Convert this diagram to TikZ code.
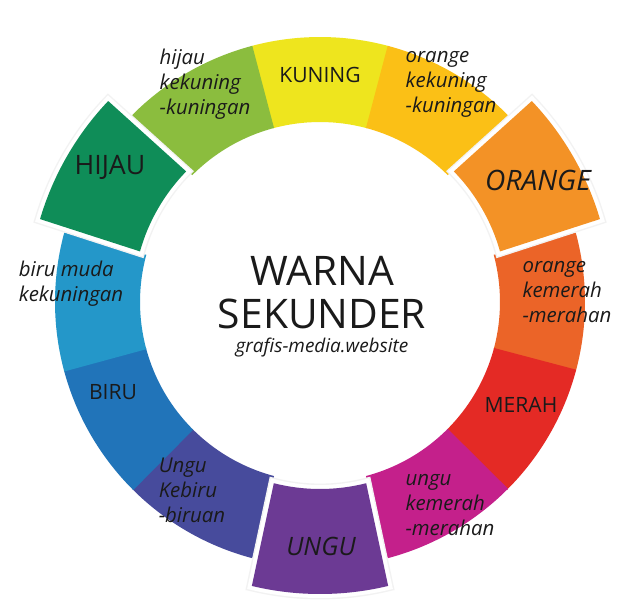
\documentclass[tikz,border=0pt]{standalone}
\usepackage{fontspec}
\setmainfont{Open Sans}
\usetikzlibrary{positioning}
\definecolor{kuning}{HTML}{EEE51E}
\definecolor{orkuning}{HTML}{FBC016}
\definecolor{oranye}{HTML}{F39226}
\definecolor{orkemerah}{HTML}{EB6428}
\definecolor{merah}{HTML}{E42A25}
\definecolor{ungkemerah}{HTML}{C4208B}
\definecolor{ungu}{HTML}{6C3A94}
\definecolor{ungkebiru}{HTML}{474B9C}
\definecolor{biru}{HTML}{2174B9}
\definecolor{birumuda}{HTML}{2497C9}
\definecolor{hijau}{HTML}{0F8D58}
\definecolor{hijkuning}{HTML}{8BBD3E}
\definecolor{darktext}{HTML}{1A1A1A}

\begin{document}
\begin{tikzpicture}[
    primlbl/.style={font=\fontsize{15}{18}\selectfont,text=darktext,inner sep=0pt},
    seclbl/.style={font=\fontsize{19}{22}\selectfont,text=darktext,inner sep=0pt},
    smalllbl/.style={font=\itshape\fontsize{14.5}{17.8}\selectfont,text=darktext,align=left,inner sep=0pt},
    piece/.style={line join=round,
      preaction={draw=black!5,line width=0.27cm},
      preaction={draw=white,line width=0.2cm}}]
  \useasboundingbox (-8,-7.65) rectangle (8,7.55);
  \fill[white] (-8,-7.65) rectangle (8,7.55);

  % ring of the twelve colours
  \foreach \a/\c in {90/kuning,60/orkuning,0/orkemerah,-30/merah,-60/ungkemerah,
                     -120/ungkebiru,-150/biru,180/birumuda,120/hijkuning}
    \fill[\c] (\a-15.2:4.5) arc[start angle=\a-15.2,end angle=\a+15.2,radius=4.5]
      -- (\a+15.2:6.625) arc[start angle=\a+15.2,end angle=\a-15.2,radius=6.625] -- cycle;

  % secondary colours pushed out
  \foreach \a/\c in {150/hijau,30/oranye,-90/ungu}
    \path[piece,fill=\c] (\a-14.3:4.675) arc[start angle=\a-14.3,end angle=\a+14.3,radius=4.675]
      -- (\a+13.5:7.3) arc[start angle=\a+13.5,end angle=\a-13.5,radius=7.3] -- cycle;

  \node[primlbl] (lkuning) at (0,5.675) {KUNING};
  \node[seclbl,font=\itshape\fontsize{20}{22}\selectfont] (loranye) at (5.45,3.05) {ORANGE};
  \node[seclbl] (lhijau) at (-5.25,3.375) {HIJAU};
  \node[seclbl,font=\itshape\fontsize{18}{22}\selectfont] (lungu) at (0.025,-6.1) {UNGU};
  \node[primlbl] (lmerah) at (5.025,-2.575) {MERAH};
  \node[primlbl] (lbiru) at (-5.175,-2.25) {BIRU};

  \node[smalllbl] (lhijkuning) at (-2.875,5.45) {hijau\\kekuning\\-kuningan};
  \node[smalllbl] (lorkuning) at (3.275,5.45) {orange\\kekuning\\-kuningan};
  \node[smalllbl] (lbirumuda) at (-6.225,0.45) {biru muda\\kekuningan};
  \node[smalllbl] (lorkemerah) at (6.175,0.25) {orange\\kemerah\\-merahan};
  \node[smalllbl] (lungkemerah) at (3.25,-5.075) {ungu\\kemerah\\-merahan};
  \node[smalllbl] (lungkebiru) at (-3.2,-4.7) {Ungu\\Kebiru\\-biruan};

  \node[font=\fontsize{29}{31}\selectfont,text=darktext,align=center,inner sep=0pt] (judul) at (0.05,0.24) {WARNA\\SEKUNDER};
  \node[font=\itshape\fontsize{13.5}{16}\selectfont,text=darktext,inner sep=0pt,below=0.2cm of judul] (situs) {grafis-media.website};
\end{tikzpicture}
\end{document}
